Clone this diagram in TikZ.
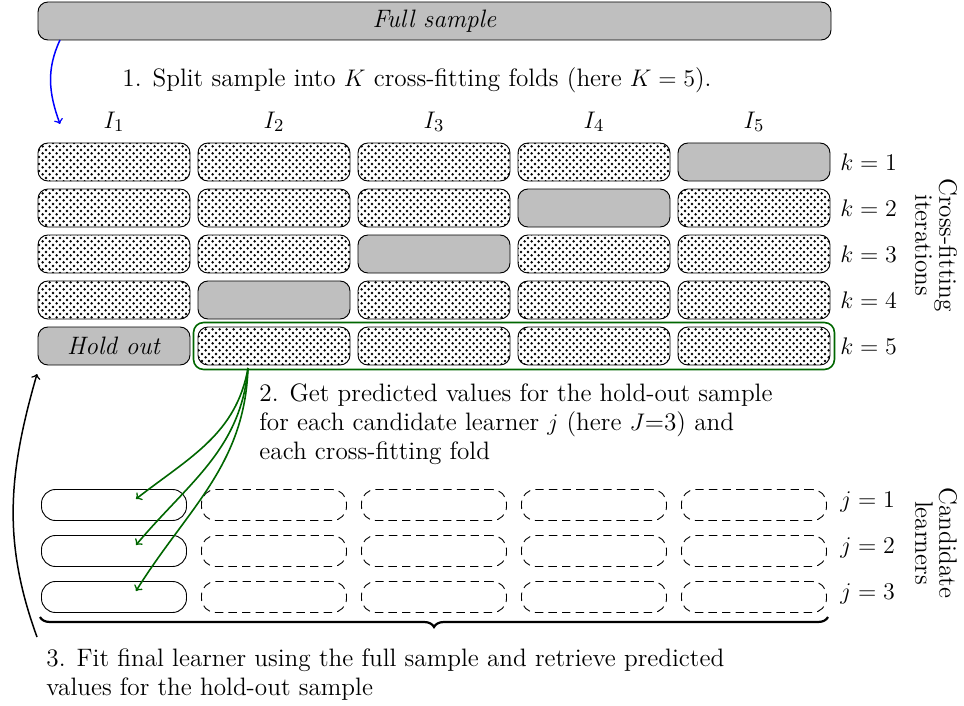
\documentclass[tikz,border=0pt]{standalone}
\usetikzlibrary{patterns,fit,decorations.pathreplacing,calc}
\pgfdeclarepatternformonly{mydots}{\pgfqpoint{0pt}{0pt}}{\pgfqpoint{3.4pt}{3.4pt}}{\pgfqpoint{3.4pt}{3.4pt}}{%
  \pgfpathcircle{\pgfqpoint{0.85pt}{0.85pt}}{0.7pt}%
  \pgfpathcircle{\pgfqpoint{2.55pt}{2.55pt}}{0.7pt}%
  \pgfusepath{fill}%
}
\begin{document}
\begin{tikzpicture}[x=0.5pt,y=0.5pt,line width=0.46pt,
  every node/.style={font=\fontsize{12.6}{14.5}\selectfont},
  fold/.style={draw, rounded corners=5pt, minimum width=76pt, minimum height=19pt, inner sep=0pt},
  train/.style={fold, pattern=mydots},
  test/.style={fold, fill=gray!50},
  cand/.style={draw, rounded corners=7pt, minimum width=72.5pt, minimum height=15.5pt, inner sep=0pt},
  candd/.style={cand, dash pattern=on 4.2pt off 2.6pt},
  lab/.style={anchor=west, inner sep=0pt},
  side/.style={rotate=-90, align=center, inner sep=0pt, font=\fontsize{12.6}{12}\selectfont},
  txt/.style={anchor=north west, align=left, inner sep=0pt},
  grn/.style={draw=green!40!black, line width=0.8pt},
  garrow/.style={->, green!40!black, line width=0.8pt}
]
\useasboundingbox (0,0) rectangle (964,-706);

\node[draw, fill=gray!50, rounded corners=5pt, minimum width=396.5pt, minimum height=19pt, inner sep=0pt] (full) at (434.5,-21) {\textit{Full sample}};

\node[anchor=west, inner sep=0pt] (t1) at (122,-80) {1. Split sample into $K$ cross-fitting folds (here $K=5$).};

\foreach \c in {1,...,5}{
  \node (I\c) at ({114+160*(\c-1)}, -122) {$I_\c$};
}

\foreach \r in {1,...,5}{
  \foreach \c in {1,...,5}{
    \pgfmathtruncatemacro{\g}{6-\r}
    \ifnum\c=\g \tikzset{cur/.style={test}}\else\tikzset{cur/.style={train}}\fi
    \node[cur] (f\r\c) at ({114+160*(\c-1)}, {-162-46*(\r-1)}) {};
  }
  \node[lab] (k\r) at (840, {-162-46*(\r-1)}) {$k=\r$};
}
\node (hold) at (f51.center) {\textit{Hold out}};

\node[side] (cfi) at (936,-245) {Cross-fitting\\iterations};

\node[grn, rounded corners=5pt, fit=(f52)(f55), inner sep=2pt] (grp) {};

\node[txt] (t2) at (259,-383) {2. Get predicted values for the hold-out sample\\for each candidate learner $j$ (here $J$=3) and\\each cross-fitting fold};

\foreach \j in {1,2,3}{
  \node[cand] (c\j1) at (114, {-505-46*(\j-1)}) {};
  \foreach \c in {2,...,5}{
    \node[candd] (c\j\c) at ({114+160*(\c-1)}, {-505-46*(\j-1)}) {};
  }
  \node[lab] (j\j) at (840, {-502-46*(\j-1)}) {$j=\j$};
}
\node[side] (cl) at (936,-543) {Candidate\\learners};

% blue arrow
\coordinate (bs) at (60,-40);
\coordinate (be) at (60,-124);
\draw[->, blue, line width=0.75pt] (bs) to[out=-115, in=110] (be);

% green arrows
\coordinate (gs) at (248,-368);
\coordinate (g1) at (136,-499);
\coordinate (g2) at (136,-545);
\coordinate (g3) at (136,-591);
\draw[garrow] (gs) to[out=-100, in=38] (g1);
\draw[garrow] (gs) to[out=-95, in=50] (g2);
\draw[garrow] (gs) to[out=-92, in=58] (g3);

% brace
\coordinate (bl) at (40,-617);
\coordinate (br) at (828,-617);
\draw[decorate, decoration={brace, mirror, amplitude=5pt}, line width=1.1pt] (bl) -- (br);

% black arrow
\coordinate (ks) at (37,-637);
\coordinate (ke) at (37,-374);
\draw[->, line width=0.75pt] (ks) to[out=110, in=-106] (ke);

\node[txt] (t3) at (46,-648) {3. Fit final learner using the full sample and retrieve predicted\\values for the hold-out sample};
\end{tikzpicture}
\end{document}
